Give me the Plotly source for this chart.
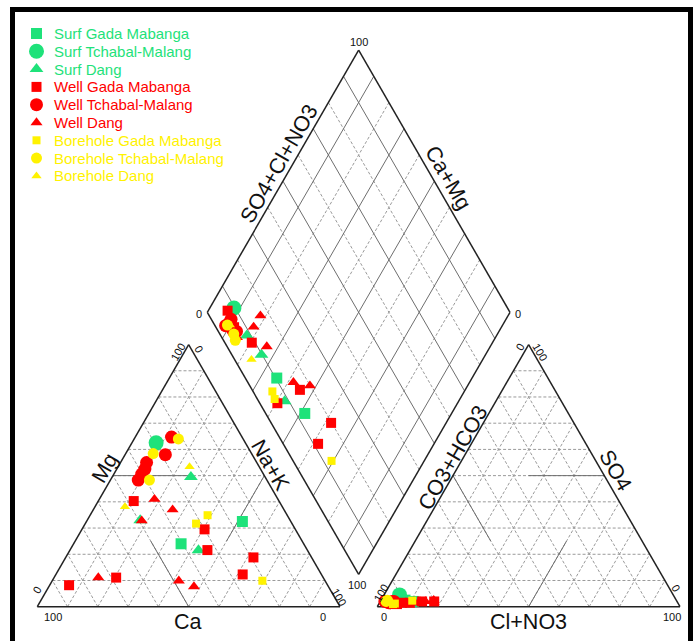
import math
import plotly.graph_objects as go

# ---------------- data (% meq/L) ----------------
series_names = ["Surf Gada Mabanga", "Surf Tchabal-Malang", "Surf Dang",
                "Well Gada Mabanga", "Well Tchabal-Malang", "Well Dang",
                "Borehole Gada Mabanga", "Borehole Tchabal-Malang", "Borehole Dang"]
series_colors = ["#1EE27A", "#1EE27A", "#1EE27A",
                 "#FF0000", "#FF0000", "#FF0000",
                 "#FFF200", "#FFF200", "#FFF200"]
series_symbols = ["square", "circle", "triangle-up"] * 3
series_sizes = [11, 15, 12, 10, 13, 10.5, 8, 11, 9]

sample_series = [0, 0, 1, 2, 2, 2,
                 3, 3, 3, 3, 3, 3, 3,
                 4, 4, 4, 4, 4, 4,
                 5, 5, 5, 5, 5, 5,
                 6, 6, 6, 7, 7, 7, 8, 8]
ca   = [16.0, 40.5, 29.5, 24.5, 36.0, 49.5,
        48.0, 30.0, 33.0, 19.2, 26.0, 85.4, 68.4,
        23.3, 28.7, 36.4, 38.2, 40.2, 42.5,
        40.8, 36.8, 49.1, 74.3, 48.3, 44.4,
        26.3, 31.7, 20.7, 21.4, 32.5, 38.8, 23.0, 52.0]
mg   = [32.5, 24.0, 62.5, 49.5, 21.5, 33.0,
        40.3, 29.5, 21.6, 18.8, 12.3, 8.2, 11.1,
        64.7, 58.0, 55.0, 52.5, 50.6, 48.3,
        41.0, 37.0, 32.8, 11.1, 9.9, 7.7,
        34.9, 31.7, 9.9, 64.0, 58.4, 48.3, 53.4, 38.1]
na_k = [51.5, 35.5, 8.0, 26.0, 42.5, 17.5,
        11.7, 40.5, 45.4, 62.0, 61.7, 6.4, 20.5,
        12.0, 13.3, 8.6, 9.3, 9.2, 9.2,
        18.2, 26.2, 18.1, 14.6, 41.8, 47.9,
        38.8, 36.6, 69.4, 14.6, 9.1, 12.9, 23.6, 9.9]
hco3 = [87.1, 89.6, 90.4, 90.2, 91.4, 91.4,
        94.0, 94.2, 84.2, 80.2, 88.5, 93.0, 91.1,
        95.0, 94.0, 96.5, 95.5, 93.5, 95.0,
        83.1, 86.9, 87.5, 95.0, 84.9, 80.1,
        94.3, 93.6, 87.3, 96.1, 95.8, 95.4, 94.4, 95.0]
so4  = [2.0, 2.5, 4.5, 2.0, 1.5, 1.5,
        1.5, 1.2, 2.0, 2.0, 1.5, 1.0, 1.5,
        1.5, 2.0, 2.0, 1.5, 2.0, 1.5,
        2.0, 2.0, 1.5, 1.0, 2.0, 2.5,
        1.0, 1.2, 2.3, 2.0, 2.2, 2.5, 1.5, 1.5]
cl_no3 = [10.9, 7.9, 5.1, 7.8, 7.1, 7.1,
          4.5, 4.6, 13.8, 17.8, 10.0, 6.0, 7.4,
          3.5, 4.0, 1.5, 3.0, 4.5, 3.5,
          14.9, 11.1, 11.0, 4.0, 13.1, 17.4,
          4.7, 5.2, 10.4, 1.9, 2.0, 2.1, 4.1, 3.5]

# ---------------- geometry ----------------
W, H = 693, 641
K = 3.027            # px per diagram unit (triangle side = 100 units)
OX, OY = 37.3, 606.7  # pixel position of the Ca-100 corner
GAP = 12.32          # gap between the two triangles (units)
h = math.sqrt(3) / 2


def px(xp, yp):
    return ((xp - OX) / K, (OY - yp) / K)


def cat_xy(c, m, n):
    t = c + m + n
    m, n = 100 * m / t, 100 * n / t
    return n + m / 2, m * h


def an_xy(b, s, c):
    t = b + s + c
    s, c = 100 * s / t, 100 * c / t
    return 100 + GAP + c + s / 2, s * h


BD = (100 + GAP / 2, GAP * h)
DL = (BD[0] - 50, BD[1] + 100 * h)


def dia_xy(sa, nc):
    # sa: (SO4+Cl) fraction of anions, nc: (Na+K) fraction of cations
    return (DL[0] + 50 * sa + 50 * nc, DL[1] + 100 * h * sa - 100 * h * nc)


fig = go.Figure()

GRID = "#9a9a9a"
SUB = "#6e6e6e"


def add_lines(segs, color, width, dash):
    xs, ys = [], []
    for (a, b) in segs:
        xs += [a[0], b[0], None]
        ys += [a[1], b[1], None]
    fig.add_trace(go.Scatter(x=xs, y=ys, mode="lines", hoverinfo="skip", showlegend=False,
                             line=dict(color=color, width=width, dash=dash)))


dashed, solid, outline = [], [], []
for i in range(10, 100, 10):
    # cation triangle (Ca, Mg, Na)
    dashed.append((cat_xy(100 - i, i, 0), cat_xy(0, i, 100 - i)))
    dashed.append((cat_xy(i, 0, 100 - i), cat_xy(i, 100 - i, 0)))
    dashed.append((cat_xy(100 - i, 0, i), cat_xy(0, 100 - i, i)))
    # anion triangle (HCO3, SO4, Cl)
    dashed.append((an_xy(100 - i, i, 0), an_xy(0, i, 100 - i)))
    dashed.append((an_xy(i, 0, 100 - i), an_xy(i, 100 - i, 0)))
    dashed.append((an_xy(100 - i, 0, i), an_xy(0, 100 - i, i)))
dia_solid, dia_dash = [], []
for i in range(10, 100, 10):
    f = i / 100
    segs = [(dia_xy(f, 0), dia_xy(f, 1)), (dia_xy(0, f), dia_xy(1, f))]
    (dia_solid if (i // 10) % 2 == 1 else dia_dash).extend(segs)

# facies sub-division lines
solid.append((cat_xy(50, 50, 0), cat_xy(25, 50, 25)))
solid.append((cat_xy(50, 0, 50), cat_xy(50, 25, 25)))
solid.append((cat_xy(0, 50, 50), cat_xy(25, 25, 50)))
solid.append((an_xy(0, 50, 50), an_xy(25, 50, 25)))
solid.append((an_xy(50, 50, 0), an_xy(50, 25, 25)))
solid.append((an_xy(50, 0, 50), an_xy(25, 25, 50)))

outline += [(cat_xy(100, 0, 0), cat_xy(0, 0, 100)), (cat_xy(0, 0, 100), cat_xy(0, 100, 0)),
            (cat_xy(0, 100, 0), cat_xy(100, 0, 0)),
            (an_xy(100, 0, 0), an_xy(0, 0, 100)), (an_xy(0, 0, 100), an_xy(0, 100, 0)),
            (an_xy(0, 100, 0), an_xy(100, 0, 0)),
            (dia_xy(0, 0), dia_xy(1, 0)), (dia_xy(1, 0), dia_xy(1, 1)),
            (dia_xy(1, 1), dia_xy(0, 1)), (dia_xy(0, 1), dia_xy(0, 0))]

add_lines(dashed, GRID, 1, "3px,2px")
add_lines(dia_dash, GRID, 1, "3px,2px")
add_lines(dia_solid, SUB, 1, "solid")
add_lines(solid, SUB, 1, "solid")
add_lines(outline, "#222222", 1.5, "solid")

# ---------------- data points ----------------
for k_s, name in enumerate(series_names):
    idx = [j for j, s in enumerate(sample_series) if s == k_s]
    xs, ys = [], []
    for j in idx:
        x, y = cat_xy(ca[j], mg[j], na_k[j]); xs.append(x); ys.append(y)
        x, y = an_xy(hco3[j], so4[j], cl_no3[j]); xs.append(x); ys.append(y)
        ta = hco3[j] + so4[j] + cl_no3[j]
        tc = ca[j] + mg[j] + na_k[j]
        x, y = dia_xy((so4[j] + cl_no3[j]) / ta, na_k[j] / tc); xs.append(x); ys.append(y)
    fig.add_trace(go.Scatter(x=xs, y=ys, mode="markers", name=name, showlegend=False,
                             marker=dict(symbol=series_symbols[k_s], size=series_sizes[k_s],
                                         color=series_colors[k_s], line=dict(width=0))))

# ---------------- legend (drawn) ----------------
leg_x_sym, leg_x_txt, leg_y0, leg_dy = 36.5, 51.5, 33.5, 17.8
for k_s in range(len(series_names)):
    x, y = px(leg_x_sym, leg_y0 + leg_dy * k_s)
    fig.add_trace(go.Scatter(x=[x], y=[y], mode="markers", showlegend=False, hoverinfo="skip",
                             marker=dict(symbol=series_symbols[k_s], size=series_sizes[k_s],
                                         color=series_colors[k_s])))
ann = []
for k_s, name in enumerate(series_names):
    x, y = px(leg_x_txt, leg_y0 + leg_dy * k_s)
    ann.append(dict(x=x, y=y, text=name, xanchor="left", yanchor="middle", showarrow=False,
                    font=dict(size=15, color=series_colors[k_s])))


def lab(text, xp, yp, ang=0, size=21.5):
    x, y = px(xp, yp)
    ann.append(dict(x=x, y=y, text=text, textangle=ang, showarrow=False,
                    xanchor="center", yanchor="middle", font=dict(size=size, color="#111111")))


lab("Ca", 188, 622)
lab("Mg", 105, 468, -60)
lab("Na+K", 270, 465, 60)
lab("Cl+NO3", 528, 622)
lab("CO3+HCO3", 453, 458, -60)
lab("SO4", 615, 470, 60)
lab("SO4+Cl+NO3", 279, 164, -60)
lab("Ca+Mg", 448, 178, 60)

ts = 11
lab("0", 37, 590, -60, ts)
lab("100", 178, 352, -60, ts)
lab("0", 199, 349, 60, ts)
lab("100", 339, 597, 60, ts)
lab("100", 53, 617, 0, ts)
lab("0", 323, 617, 0, ts)
lab("100", 381, 593, -60, ts)
lab("0", 520, 347, -60, ts)
lab("100", 540, 352, 60, ts)
lab("0", 676, 588, 60, ts)
lab("0", 384, 617, 0, ts)
lab("100", 672, 617, 0, ts)
lab("100", 359, 42, 0, ts)
lab("0", 199, 314, 0, ts)
lab("0", 518, 314, 0, ts)
lab("100", 357, 585, 0, ts)

shapes = [dict(type="rect", xref="paper", yref="paper",
               x0=12.5 / W, x1=690.5 / W, y0=1 - 700 / H, y1=1 - 9.5 / H,
               line=dict(color="black", width=5))]

fig.update_layout(
    width=W, height=H, margin=dict(l=0, r=0, t=0, b=0),
    paper_bgcolor="white", plot_bgcolor="white",
    font=dict(family="Arial, Liberation Sans, sans-serif"),
    xaxis=dict(range=[-OX / K, (W - OX) / K], visible=False, fixedrange=True),
    yaxis=dict(range=[-(H - OY) / K, OY / K], visible=False, fixedrange=True),
    annotations=ann, shapes=shapes, showlegend=False,
)

fig.write_html("out.html", config={"displayModeBar": False},
               post_script="document.body.style.margin='0';document.body.style.overflow='hidden';")
